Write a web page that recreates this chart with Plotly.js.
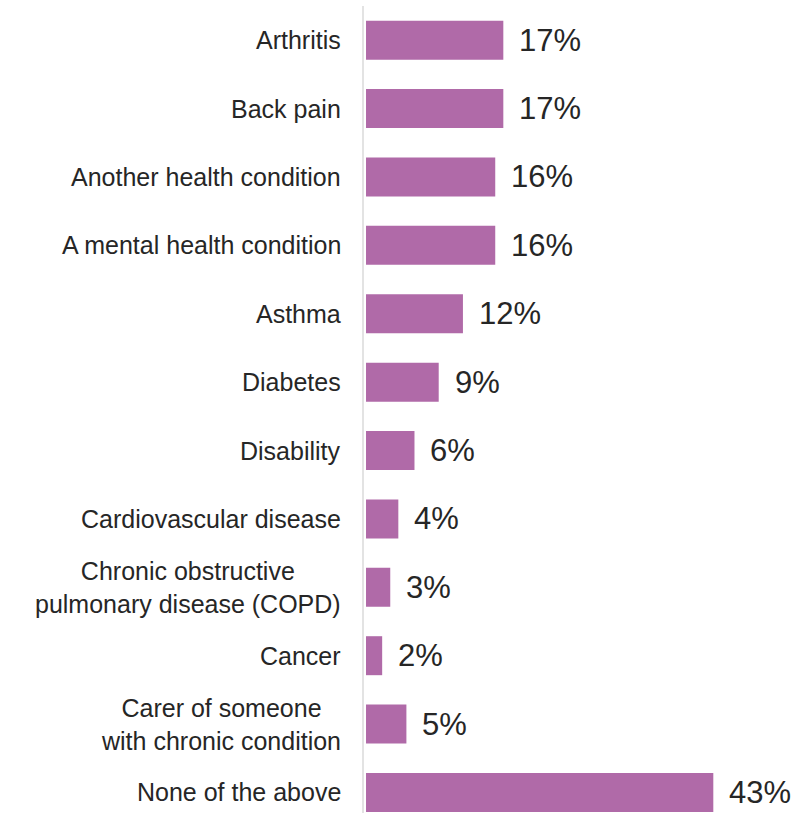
<!DOCTYPE html>
<html>
<head>
<meta charset="utf-8">
<script src="https://cdn.plot.ly/plotly-3.0.1.min.js"></script>
<style>html,body{margin:0;padding:0;background:#fff;}#chart{width:807px;height:813px;}</style>
</head>
<body>
<div id="chart"></div>
<script>
var categories = [
  "Arthritis",
  "Back pain",
  "Another health condition",
  "A mental health condition",
  "Asthma",
  "Diabetes",
  "Disability",
  "Cardiovascular disease",
  "Chronic obstructive<br>pulmonary disease (COPD)",
  "Cancer",
  "Carer of someone<br>with chronic condition",
  "None of the above"
];
var values = [17, 17, 16, 16, 12, 9, 6, 4, 3, 2, 5, 43];
var valueLabels = ["17%", "17%", "16%", "16%", "12%", "9%", "6%", "4%", "3%", "2%", "5%", "43%"];

var barColor = "#B06AA8";
var textColor = "#262626";
var fontFamily = "'Liberation Sans', Arial, sans-serif";

var trace = {
  type: "bar",
  orientation: "h",
  x: values,
  y: categories,
  marker: {color: barColor},
  hoverinfo: "none"
};

var annotations = [];
categories.forEach(function (c, i) {
  annotations.push({
    xref: "paper", yref: "y", x: 0, y: c,
    xanchor: "right", yanchor: "middle", xshift: -21,
    text: c, showarrow: false, align: "center",
    font: {family: fontFamily, size: 25, color: textColor}
  });
  annotations.push({
    xref: "x", yref: "y", x: values[i], y: c,
    xanchor: "left", yanchor: "middle", xshift: 14,
    text: valueLabels[i], showarrow: false,
    font: {family: fontFamily, size: 31, color: textColor}
  });
});

var layout = {
  width: 807, height: 813,
  margin: {l: 364, r: 0, t: 6, b: 0},
  paper_bgcolor: "#ffffff",
  plot_bgcolor: "#ffffff",
  showlegend: false,
  bargap: 0.43,
  xaxis: {
    range: [-0.25, 54.6],
    showgrid: false, zeroline: false, showticklabels: false, showline: false, ticks: ""
  },
  yaxis: {
    type: "category",
    categoryorder: "array", categoryarray: categories,
    range: [11.3, -0.5],
    showgrid: false, zeroline: false, showticklabels: false,
    showline: true, linecolor: "#e3e3e3", linewidth: 2, ticks: ""
  },
  annotations: annotations
};

Plotly.newPlot("chart", [trace], layout, {displayModeBar: false, staticPlot: true});
</script>
</body>
</html>
